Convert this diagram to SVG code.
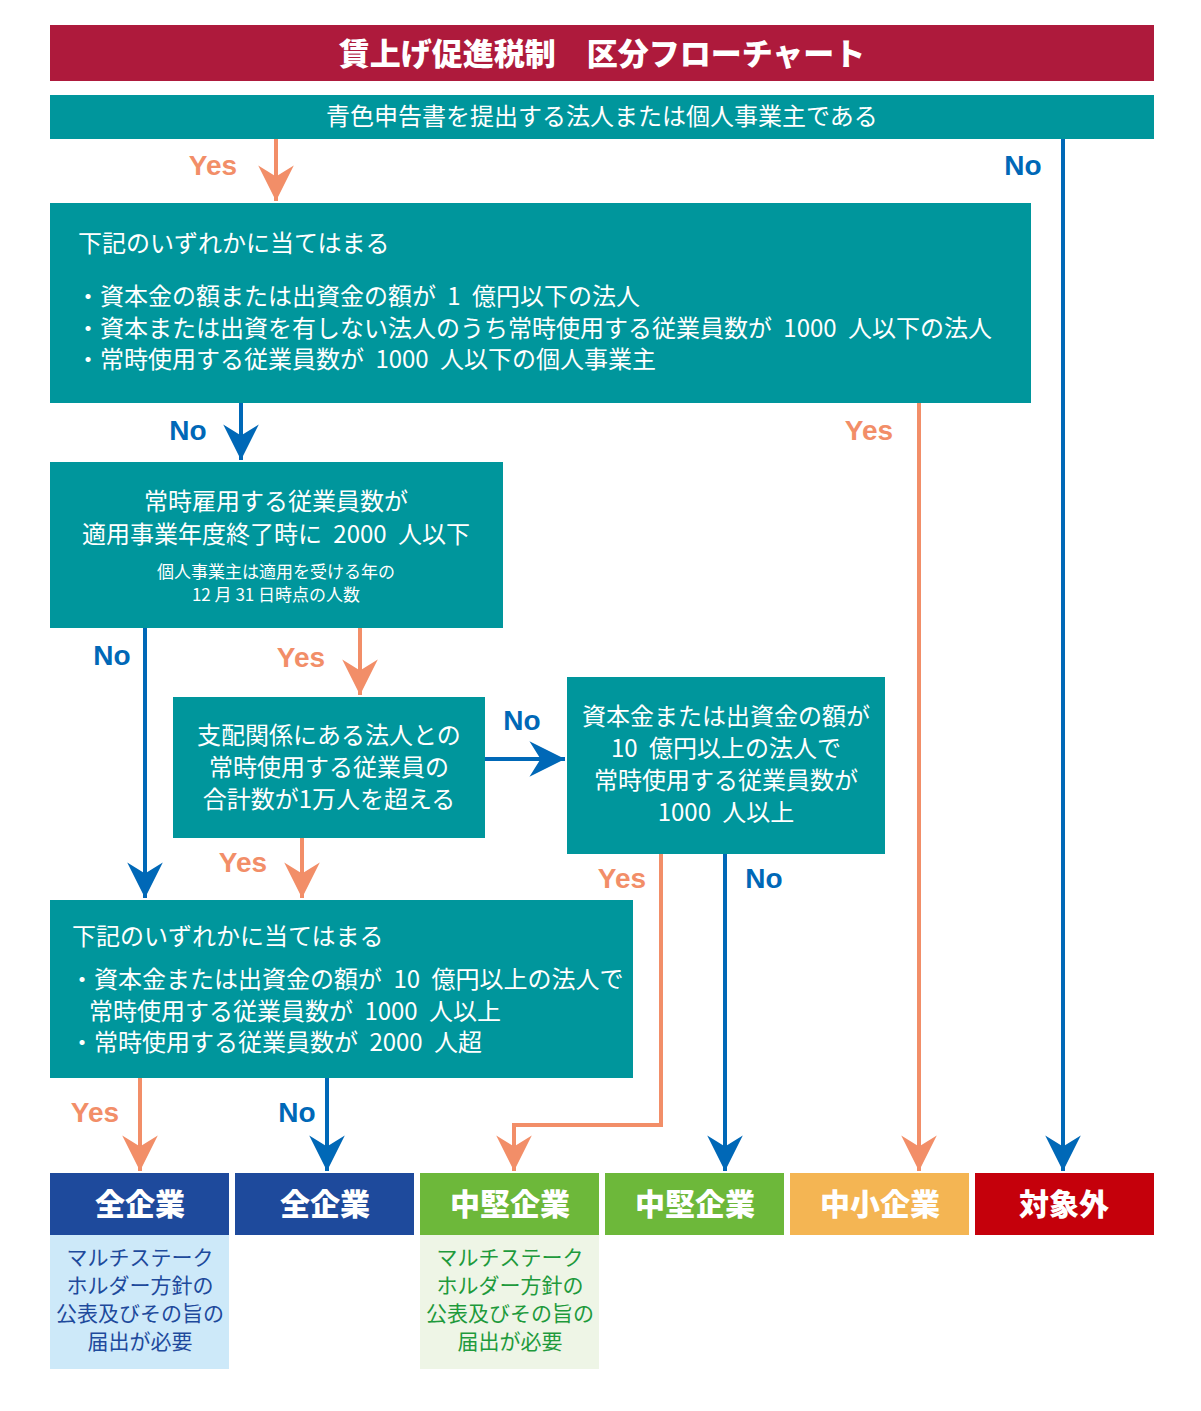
<svg xmlns="http://www.w3.org/2000/svg" width="1201" height="1411" viewBox="0 0 1201 1411">
<style>
text{font-family:"Noto Sans CJK JP","Noto Sans",sans-serif}
.tl{fill:#00969C}
.w{fill:#fff;font-size:24px}
.ws{fill:#fff;font-size:17px}
.c{text-anchor:middle}
.y{fill:#F28E68;font-size:28px;font-weight:bold;font-family:"Liberation Sans",sans-serif;text-anchor:middle}
.n{fill:#0068B7;font-size:28px;font-weight:bold;font-family:"Liberation Sans",sans-serif;text-anchor:middle}
.ly{stroke:#F28E68;stroke-width:4;fill:none;marker-end:url(#ay)}
.ln{stroke:#0068B7;stroke-width:4;fill:none;marker-end:url(#an)}
.bt{fill:#fff;font-size:30px;font-weight:900;text-anchor:middle}
.sub{font-size:21px;text-anchor:middle}
.sp{word-spacing:6px}
</style>
<defs>
<marker id="ay" markerUnits="userSpaceOnUse" markerWidth="40" markerHeight="40" viewBox="-32 -18 34 36" refX="0" refY="0" orient="auto"><path d="M0,0 L-32,-16 L-22,0 L-32,16Z" fill="#F28E68"/></marker>
<marker id="an" markerUnits="userSpaceOnUse" markerWidth="40" markerHeight="40" viewBox="-32 -18 34 36" refX="0" refY="0" orient="auto"><path d="M0,0 L-32,-16 L-22,0 L-32,16Z" fill="#0068B7"/></marker>
</defs>
<rect width="1201" height="1411" fill="#fff"/>
<g id="title"><rect x="50" y="25" width="1104" height="56" fill="#AE1A3C"/><text x="602" y="65" class="c" fill="#fff" font-size="31" font-weight="900">賃上げ促進税制　区分フローチャート</text></g>
<g id="q1"><rect x="50" y="95" width="1104" height="44" class="tl"/><text x="602" y="125" class="w c">青色申告書を提出する法人または個人事業主である</text></g>
<g id="q2"><rect x="50" y="203" width="981" height="200" class="tl"/>
<text x="78" y="252" class="w">下記のいずれかに当てはまる</text>
<text x="76" y="305" class="w sp">・資本金の額または出資金の額が 1 億円以下の法人</text>
<text x="76" y="337" class="w sp">・資本または出資を有しない法人のうち常時使用する従業員数が 1000 人以下の法人</text>
<text x="76" y="368" class="w sp">・常時使用する従業員数が 1000 人以下の個人事業主</text></g>
<g id="q3"><rect x="50" y="462" width="453" height="166" class="tl"/>
<text x="276" y="510" class="w c">常時雇用する従業員数が</text>
<text x="276" y="543" class="w c sp">適用事業年度終了時に 2000 人以下</text>
<text x="276" y="578" class="ws c">個人事業主は適用を受ける年の</text>
<text x="276" y="601" class="ws c">12 月 31 日時点の人数</text></g>
<g id="q4"><rect x="173" y="697" width="312" height="141" class="tl"/>
<text x="329" y="744" class="w c">支配関係にある法人との</text>
<text x="329" y="776" class="w c">常時使用する従業員の</text>
<text x="329" y="808" class="w c">合計数が1万人を超える</text></g>
<g id="q5"><rect x="567" y="677" width="318" height="177" class="tl"/>
<text x="726" y="725" class="w c">資本金または出資金の額が</text>
<text x="726" y="757" class="w c sp">10 億円以上の法人で</text>
<text x="726" y="789" class="w c">常時使用する従業員数が</text>
<text x="726" y="821" class="w c sp">1000 人以上</text></g>
<g id="q6"><rect x="50" y="900" width="583" height="178" class="tl"/>
<text x="72" y="945" class="w">下記のいずれかに当てはまる</text>
<text x="70" y="988" class="w sp">・資本金または出資金の額が 10 億円以上の法人で</text>
<text x="89" y="1020" class="w sp">常時使用する従業員数が 1000 人以上</text>
<text x="70" y="1051" class="w sp">・常時使用する従業員数が 2000 人超</text></g>
<g id="r1"><rect x="50" y="1173" width="179" height="62" fill="#1E4A9C"/><text x="140" y="1215" class="bt">全企業</text>
<rect x="50" y="1235" width="179" height="134" fill="#CDE9F9"/>
<g fill="#1E4A9C"><text x="140" y="1265" class="sub">マルチステーク</text><text x="140" y="1293" class="sub">ホルダー方針の</text><text x="140" y="1321" class="sub">公表及びその旨の</text><text x="140" y="1349" class="sub">届出が必要</text></g></g>
<g id="r2"><rect x="235" y="1173" width="179" height="62" fill="#1E4A9C"/><text x="325" y="1215" class="bt">全企業</text></g>
<g id="r3"><rect x="420" y="1173" width="179" height="62" fill="#6DB83A"/><text x="510" y="1215" class="bt">中堅企業</text>
<rect x="420" y="1235" width="179" height="134" fill="#EEF5E6"/>
<g fill="#1E9A3C"><text x="510" y="1265" class="sub">マルチステーク</text><text x="510" y="1293" class="sub">ホルダー方針の</text><text x="510" y="1321" class="sub">公表及びその旨の</text><text x="510" y="1349" class="sub">届出が必要</text></g></g>
<g id="r4"><rect x="605" y="1173" width="179" height="62" fill="#6DB83A"/><text x="695" y="1215" class="bt">中堅企業</text></g>
<g id="r5"><rect x="790" y="1173" width="179" height="62" fill="#F4B553"/><text x="880" y="1215" class="bt">中小企業</text></g>
<g id="r6"><rect x="975" y="1173" width="179" height="62" fill="#C5000B"/><text x="1064" y="1215" class="bt">対象外</text></g>
<g id="connectors">
<path class="ly" d="M276,139 V201"/><text x="213" y="175" class="y">Yes</text>
<path class="ln" d="M1063,139 V1171"/><text x="1023" y="175" class="n">No</text>
<path class="ln" d="M241,403 V460"/><text x="188" y="440" class="n">No</text>
<path class="ly" d="M919,403 V1171"/><text x="869" y="440" class="y">Yes</text>
<path class="ln" d="M145,628 V898"/><text x="112" y="665" class="n">No</text>
<path class="ly" d="M360,628 V695"/><text x="301" y="667" class="y">Yes</text>
<path class="ln" d="M485,759 H565"/><text x="522" y="730" class="n">No</text>
<path class="ly" d="M302,838 V898"/><text x="243" y="872" class="y">Yes</text>
<path class="ly" d="M661,854 V1125 H514 V1171"/><text x="622" y="888" class="y">Yes</text>
<path class="ln" d="M725,854 V1171"/><text x="764" y="888" class="n">No</text>
<path class="ly" d="M140,1078 V1171"/><text x="95" y="1122" class="y">Yes</text>
<path class="ln" d="M327,1078 V1171"/><text x="297" y="1122" class="n">No</text>
</g>
</svg>
